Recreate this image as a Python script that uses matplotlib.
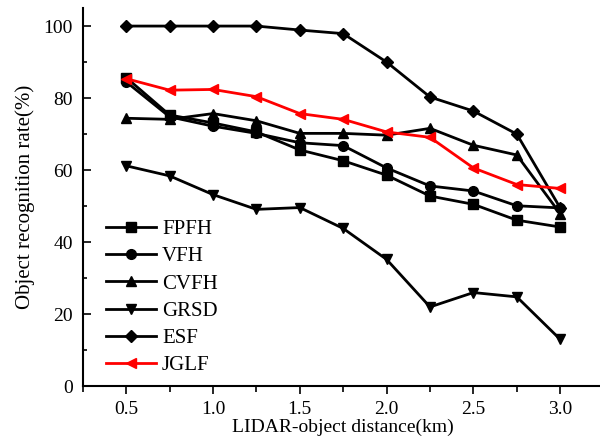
import matplotlib.pyplot as plt
from matplotlib.ticker import MultipleLocator

plt.rcParams['font.family'] = ['Liberation Serif', 'DejaVu Serif']

distance = [0.5, 0.75, 1.0, 1.25, 1.5, 1.75, 2.0, 2.25, 2.5, 2.75, 3.0]

fpfh = [85.7, 75.3, 73.1, 70.6, 65.6, 62.6, 58.6, 52.8, 50.5, 46.1, 44.2]
vfh = [84.5, 74.8, 72.2, 70.2, 67.6, 66.8, 60.6, 55.6, 54.2, 50.1, 49.5]
cvfh = [74.4, 74.1, 75.7, 73.7, 70.2, 70.2, 69.7, 71.6, 66.9, 64.2, 47.9]
grsd = [61.2, 58.4, 53.2, 49.1, 49.6, 43.8, 35.2, 22.0, 26.0, 24.8, 13.0]
esf = [100, 100, 100, 100, 98.9, 97.9, 90.0, 80.3, 76.4, 70.0, 49.5]
jglf = [85.4, 82.2, 82.4, 80.4, 75.7, 74.1, 70.6, 69.1, 60.6, 56.0, 54.9]

series = [
    ('FPFH', fpfh, 's', 'black'),
    ('VFH', vfh, 'o', 'black'),
    ('CVFH', cvfh, '^', 'black'),
    ('GRSD', grsd, 'v', 'black'),
    ('ESF', esf, 'D', 'black'),
    ('JGLF', jglf, '<', 'red'),
]

fig = plt.figure(figsize=(6, 4.48), dpi=100)
ax = fig.add_axes([0.138, 0.138, 0.868, 0.844])

for name, vals, mk, col in series:
    ms = 6 if mk == 'D' else 7
    ax.plot(distance, vals, color=col, marker=mk, markersize=ms, linewidth=2, label=name)

ax.set_xlim(0.25, 3.25)
ax.set_ylim(0, 105)
ax.xaxis.set_major_locator(MultipleLocator(0.5))
ax.xaxis.set_minor_locator(MultipleLocator(0.25))
ax.yaxis.set_major_locator(MultipleLocator(20))
ax.yaxis.set_minor_locator(MultipleLocator(10))
ax.set_xticks([0.5, 1.0, 1.5, 2.0, 2.5, 3.0])
ax.set_xticklabels(['0.5', '1.0', '1.5', '2.0', '2.5', '3.0'])

for s in ['top', 'right']:
    ax.spines[s].set_visible(False)
for s in ['left', 'bottom']:
    ax.spines[s].set_linewidth(1.5)

ax.tick_params(axis='x', which='major', direction='out', length=6, width=1.2, labelsize=14, pad=5)
ax.tick_params(axis='x', which='minor', direction='out', length=4, width=1.2)
ax.tick_params(axis='y', which='major', direction='in', length=6, width=1.2, labelsize=14, pad=7)
ax.tick_params(axis='y', which='minor', direction='in', length=3, width=1.2)

ax.set_xlabel('LIDAR-object distance(km)', fontsize=14, labelpad=0)
ax.set_ylabel('Object recognition rate(%)', fontsize=15, labelpad=6)

ax.legend(loc='upper left', bbox_to_anchor=(0.044, 0.441), frameon=False, fontsize=15,
          handlelength=2.4, labelspacing=0.37, handletextpad=0.3,
          borderaxespad=0, borderpad=0)

fig.savefig('out.png', dpi=100)
